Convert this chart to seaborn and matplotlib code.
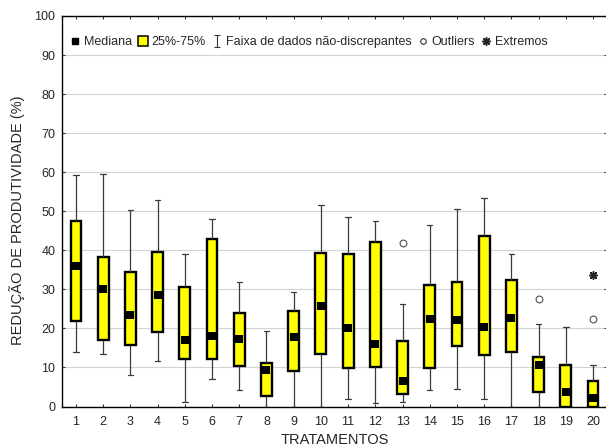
import numpy as np
import pandas as pd
import matplotlib
matplotlib.use("Agg")
import matplotlib.pyplot as plt
from matplotlib.lines import Line2D
from matplotlib.path import Path
import seaborn as sns

# valores (% reducao de produtividade)
tratamentos = list(range(1, 21))
whisk_min = [14.0, 13.4, 8.0, 11.7, 1.2, 7.1, 4.1, 0.0, 0.0, 0.0,
             1.9, 0.8, 1.2, 4.3, 4.4, 1.9, 0.0, 0.0, 0.0, 0.0]
q25 = [21.9, 17.1, 15.7, 19.2, 12.1, 12.2, 10.4, 2.7, 9.1, 13.4,
       9.8, 10.1, 3.3, 9.9, 15.5, 13.2, 14.0, 3.6, 0.0, 0.0]
mediana = [35.9, 30.0, 23.5, 28.5, 17.0, 18.0, 17.2, 9.3, 17.7, 25.7,
           20.0, 16.0, 6.5, 22.3, 22.2, 20.3, 22.6, 10.5, 3.6, 2.1]
q75 = [47.6, 38.4, 34.4, 39.6, 30.7, 42.9, 24.0, 11.2, 24.5, 39.2,
       39.0, 42.2, 16.9, 31.2, 32.0, 43.7, 32.5, 12.8, 10.7, 6.6]
whisk_max = [59.3, 59.5, 50.3, 52.9, 39.0, 47.9, 31.8, 19.4, 29.2, 51.7,
             48.6, 47.4, 26.2, 46.5, 50.5, 53.5, 39.1, 21.2, 20.4, 10.5]

outlier_trat = [13, 18, 20]
outlier_val = [41.9, 27.5, 22.3]
extremo_trat = [20]
extremo_val = [33.8]

# cinco valores por tratamento -> quartis exatos com whis=(0, 100)
rows = []
for i, t in enumerate(tratamentos):
    for v in (whisk_min[i], q25[i], mediana[i], q75[i], whisk_max[i]):
        rows.append({"trat": t, "valor": v})
df = pd.DataFrame(rows)

sns.set_style("ticks")
plt.rcParams["font.family"] = ["Liberation Sans", "DejaVu Sans"]

fig = plt.figure(figsize=(6.06, 4.48), dpi=100)
ax = fig.add_axes([62.4 / 606, 41.5 / 448, 544.2 / 606, 390.5 / 448])

ax.yaxis.grid(True, color="#d4d4d4", linewidth=0.8)
ax.set_axisbelow(True)

sns.boxplot(data=df, x="trat", y="valor", native_scale=True, whis=(0, 100),
            width=0.4, color="#ffff00", saturation=1, linecolor="black",
            boxprops=dict(linewidth=1.7),
            whiskerprops=dict(color="#3a3a3a", linewidth=0.9),
            capprops=dict(color="#3a3a3a", linewidth=0.9),
            medianprops=dict(linewidth=0),
            showfliers=False, ax=ax)

sns.scatterplot(x=tratamentos, y=mediana, marker="s", s=36, color="black",
                linewidth=0, zorder=5, ax=ax)
sns.scatterplot(x=outlier_trat, y=outlier_val, marker="o", s=24,
                facecolor="white", edgecolor="#505050", linewidth=0.8,
                zorder=5, ax=ax)
sns.scatterplot(x=extremo_trat, y=extremo_val, marker=(8, 2, 0), s=30,
                color="#222222", linewidth=1.1, zorder=5, ax=ax)

ax.set_xlim(0.5, 20.5)
ax.set_ylim(0, 100)
ax.set_xticks(tratamentos)
ax.set_xticklabels([str(t) for t in tratamentos])
ax.set_yticks(range(0, 101, 10))

ax.tick_params(axis="both", direction="in", length=2.5, width=0.8,
               labelsize=9, top=True, right=True, color="#333333")
ax.tick_params(axis="x", pad=7)
ax.tick_params(axis="y", pad=5)
for side in ["left", "bottom", "top"]:
    ax.spines[side].set_linewidth(1.0)
    ax.spines[side].set_color("black")
ax.spines["right"].set_visible(False)

ax.set_xlabel("TRATAMENTOS", fontsize=10.5, va="top")
ax.xaxis.set_label_coords(0.5, -0.068)
ax.set_ylabel("REDUÇÃO DE PRODUTIVIDADE (%)", fontsize=10.5)
ax.yaxis.set_label_coords(-0.069, 0.478)

# legenda
ibeam = Path([(-0.5, 1), (0.5, 1), (0, 1), (0, -1), (-0.5, -1), (0.5, -1)],
             [Path.MOVETO, Path.LINETO, Path.MOVETO, Path.LINETO,
              Path.MOVETO, Path.LINETO])
handles = [
    Line2D([], [], linestyle="none", marker="s", markersize=5,
           color="black"),
    Line2D([], [], linestyle="none", marker="s", markersize=6.5,
           markerfacecolor="#ffff00", markeredgecolor="black",
           markeredgewidth=1.1),
    Line2D([], [], linestyle="none", marker=ibeam, markersize=8,
           color="#333333", markeredgewidth=0.8),
    Line2D([], [], linestyle="none", marker="o", markersize=4,
           markerfacecolor="white", markeredgecolor="#333333",
           markeredgewidth=0.8),
    Line2D([], [], linestyle="none", marker=(8, 2, 0), markersize=6,
           color="#222222", markeredgewidth=1.1),
]
labels = ["Mediana", "25%-75%", "Faixa de dados não-discrepantes",
          "Outliers", "Extremos"]
ax.legend(handles, labels, loc="center left",
          bbox_to_anchor=(0.0136, 0.9326), ncol=5, frameon=False,
          fontsize=9, handlelength=0.8, handletextpad=0.3,
          columnspacing=0.5, borderpad=0, borderaxespad=0)

fig.savefig("out.png", dpi=100)
